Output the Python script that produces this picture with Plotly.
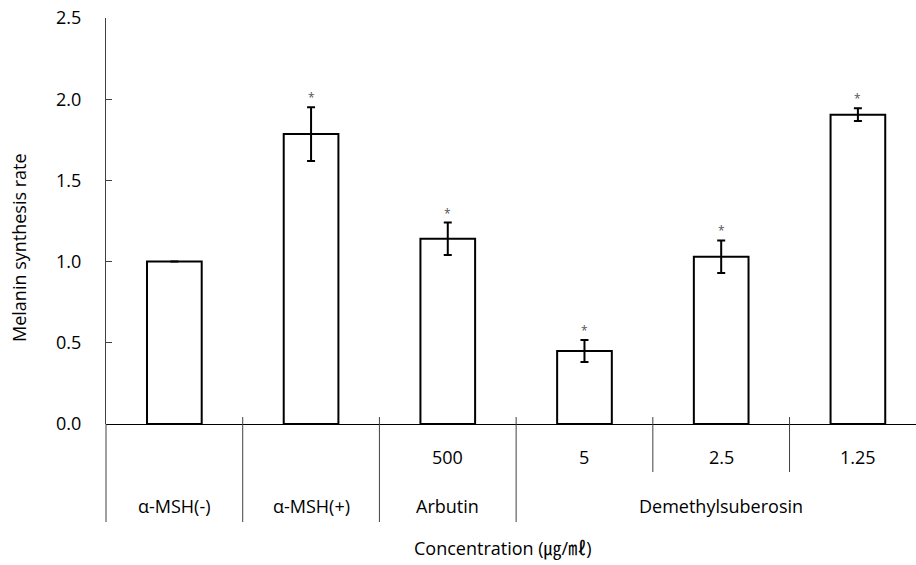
import plotly.graph_objects as go

# ---- data ----
groups = ["α-MSH(-)", "α-MSH(+)", "Arbutin", "Demethylsuberosin", "Demethylsuberosin", "Demethylsuberosin"]
concentrations = ["", "", "500", "5", "2.5", "1.25"]
values = [1.0, 1.785, 1.14, 0.45, 1.03, 1.905]
errors = [None, 0.165, 0.10, 0.068, 0.10, 0.04]
significance = ["", "*", "*", "*", "*", "*"]
y_ticks = [0.0, 0.5, 1.0, 1.5, 2.0, 2.5]

FONT = "Open Sans, Noto Sans CJK KR, sans-serif"
LINE = "#404040"
FS = 18

idx = list(range(len(values)))

fig = go.Figure()
fig.add_trace(go.Bar(
    x=idx, y=values, width=0.4,
    marker=dict(color="white", line=dict(color="black", width=2)),
    error_y=dict(type="data", array=errors, visible=True, color="black", thickness=2, width=4),
    showlegend=False, hoverinfo="skip",
))

annotations = []
# significance stars
for i, (v, e, s) in enumerate(zip(values, errors, significance)):
    if s:
        annotations.append(dict(x=i, y=v + (e or 0), xref="x", yref="y", text=s, showarrow=False,
                                yanchor="bottom", yshift=-1, font=dict(size=12, color="#555555", family=FONT)))
# concentration row
for i, c in enumerate(concentrations):
    if c:
        annotations.append(dict(x=i, y=-0.0813, xref="x", yref="paper", text=c, showarrow=False,
                                yanchor="middle", font=dict(size=FS, color="black", family=FONT)))
# group row
seen = []
for g in groups:
    if g not in seen:
        seen.append(g)
for g in seen:
    members = [i for i, gg in enumerate(groups) if gg == g]
    xc = sum(members) / len(members)
    annotations.append(dict(x=xc, y=-0.202, xref="x", yref="paper", text=g, showarrow=False,
                            yanchor="middle", font=dict(size=FS, color="black", family=FONT)))
# axis titles
annotations.append(dict(x=0.49, y=-0.3054, xref="paper", yref="paper", text="Concentration (㎍/㎖)",
                        showarrow=False, yanchor="middle", font=dict(size=FS, color="black", family=FONT)))
annotations.append(dict(x=-0.1074, y=0.4335, xref="paper", yref="paper", text="Melanin synthesis rate",
                        showarrow=False, textangle=-90, xanchor="center", yanchor="middle",
                        font=dict(size=FS, color="black", family=FONT)))

# separators between categories
shapes = []
for i in idx:
    long = (i == 0) or (groups[i] != groups[i - 1])
    y1 = -0.2414 if long else -0.1182
    if i == 0:
        shapes.append(dict(type="line", xref="paper", yref="paper", x0=0, x1=0, y0=0.0, y1=y1,
                           line=dict(color=LINE, width=1)))
    else:
        shapes.append(dict(type="line", xref="x", yref="paper", x0=i - 0.5, x1=i - 0.5, y0=0.0172, y1=y1,
                           line=dict(color=LINE, width=1)))

fig.update_layout(
    width=916, height=565,
    margin=dict(l=106, r=0, t=18, b=141),
    plot_bgcolor="white", paper_bgcolor="white",
    font=dict(family=FONT, size=FS, color="black"),
    annotations=annotations, shapes=shapes,
    xaxis=dict(range=[-0.5, 5.425], showticklabels=False, ticks="", showgrid=False, zeroline=False,
               showline=False),
    yaxis=dict(range=[0, 2.5], tickvals=y_ticks, tickformat=".1f", ticks="inside", ticklen=6,
               tickcolor=LINE, showline=True, linecolor=LINE, linewidth=1, showgrid=False,
               zeroline=True, zerolinecolor="black", zerolinewidth=1, ticklabelstandoff=20,
               tickfont=dict(size=FS, family=FONT, color="black")),
)

fig.write_html("out.html", config={"displayModeBar": False},
               post_script="document.body.style.margin='0';")
